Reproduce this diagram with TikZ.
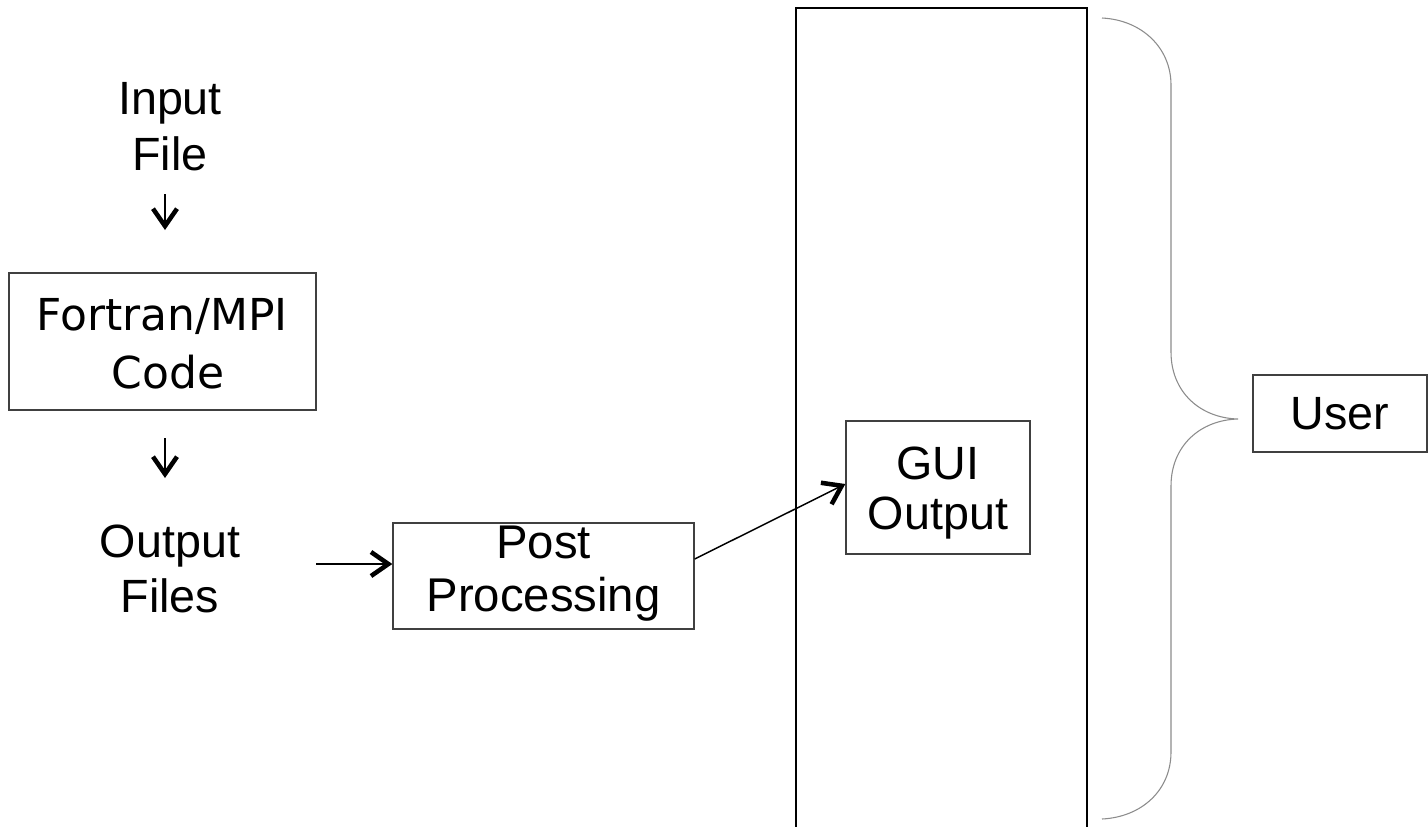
\documentclass[tikz,border=0pt]{standalone}
\usepackage{fontspec}
\setmainfont{Liberation Sans}
\newfontfamily\verd{DejaVu Sans}
\usetikzlibrary{arrows.meta,calc}
\definecolor{boxgray}{HTML}{404040}
\definecolor{bracegray}{HTML}{8C8C8C}
\begin{document}
\begin{tikzpicture}[x=0.75pt,y=-0.75pt,
  lbl/.style={inner sep=0pt, align=center},
  boxnode/.style={draw=boxgray, line width=1pt, inner sep=0pt},
  arr/.style={line width=1.1pt, -{Straight Barb[length=13pt,width=18pt,line width=3.4pt]}},
  bigrect/.style={line width=1.5pt, draw=black},
  bracestyle/.style={draw=bracegray, line width=0.8pt}]
\useasboundingbox (0,0) rectangle (1428,826);
\fill[white] (0,0) rectangle (1428,826);

% boxes
\node[boxnode, minimum width=230.25pt, minimum height=102.75pt] (fortran) at (162.5,341.5) {};
\node[boxnode, minimum width=225.75pt, minimum height=79.5pt] (post) at (543.5,576) {};
\node[boxnode, minimum width=138pt, minimum height=99.75pt] (gui) at (938,487.5) {};
\node[boxnode, minimum width=130.5pt, minimum height=57.75pt] (user) at (1340,413.5) {};

% texts
\node[lbl, anchor=north, font=\fontsize{35pt}{42pt}\selectfont] (input) at (170,82) {Input\\File};
\node[lbl, font=\fontsize{35pt}{41pt}\selectfont] (output) at (170,569) {Output\\Files};
\node[lbl, anchor=north, font=\verd\fontsize{33pt}{43.5pt}\selectfont] (fortrant) at (162,298) {Fortran/MPI\\ \hspace*{9pt}Code};
\node[lbl, anchor=north, font=\fontsize{35.5pt}{39.75pt}\selectfont] (postt) at (543.5,526) {Post\\Processing};
\node[lbl, anchor=north, font=\fontsize{35pt}{37.5pt}\selectfont] (guit) at (938,447) {GUI\\Output};
\node[lbl, font=\fontsize{35pt}{41pt}\selectfont] (usert) at (user.center) {User};

% big open rectangle
\draw[bigrect] (796,830) -- (796,8) coordinate (bigtl) -- (1087,8) coordinate (bigtr) -- (1087,830);

% brace
\coordinate (btop) at (1102,18);
\coordinate (btip) at (1238,419);
\coordinate (bbot) at (1102,819);
\draw[bracestyle] (btop) .. controls (1142,20) and (1171,48) .. (1171,85)
  -- (1171,352) .. controls (1171,392) and (1200,418) .. (btip)
  .. controls (1200,420) and (1171,446) .. (1171,486)
  -- (1171,752) .. controls (1171,790) and (1142,817) .. (bbot);

% arrows
\coordinate (a1s) at (165,194);
\coordinate (a1e) at (165,230);
\draw[arr] (a1s) -- (a1e);
\coordinate (a2s) at (165,438);
\coordinate (a2e) at (165,478);
\draw[arr] (a2s) -- (a2e);
\coordinate (a3s) at (316,564);
\draw[arr] (a3s) -- (a3s -| post.west);
\coordinate (a4s) at ($(post.east)+(0,-17)$);
\coordinate (a4e) at ($(gui.west)+(0,-3.5)$);
\draw[arr] (a4s) -- (a4e);
\end{tikzpicture}
\end{document}
